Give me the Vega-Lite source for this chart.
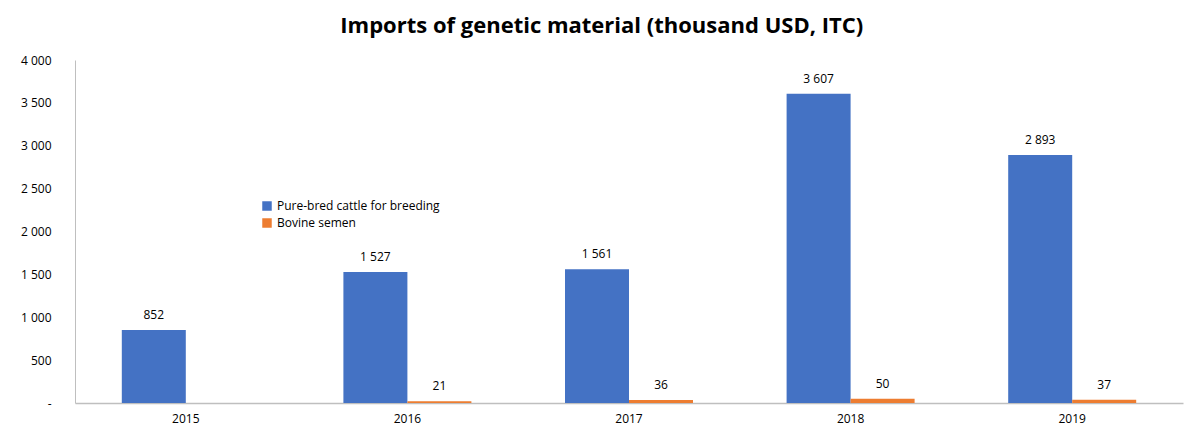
{
  "$schema": "https://vega.github.io/schema/vega-lite/v6.json",
  "width": 1197,
  "height": 439,
  "autosize": {"type": "fit", "contains": "padding"},
  "padding": {"left": 20, "right": 14, "top": 15, "bottom": 15},
  "background": "white",
  "config": {
    "view": {"stroke": null},
    "font": "Open Sans",
    "locale": {"number": {"decimal": ".", "thousands": " ", "grouping": [3], "currency": ["", ""]}}
  },
  "title": {
    "text": "Imports of genetic material (thousand USD, ITC)",
    "fontSize": 22,
    "fontWeight": "bold",
    "font": "Open Sans",
    "color": "#000000",
    "anchor": "middle",
    "frame": "bounds",
    "offset": 16
  },
  "data": {
    "values": [
      {"year": "2015", "series": "Pure-bred cattle for breeding", "value": 852},
      {"year": "2016", "series": "Pure-bred cattle for breeding", "value": 1527},
      {"year": "2016", "series": "Bovine semen", "value": 21},
      {"year": "2017", "series": "Pure-bred cattle for breeding", "value": 1561},
      {"year": "2017", "series": "Bovine semen", "value": 36},
      {"year": "2018", "series": "Pure-bred cattle for breeding", "value": 3607},
      {"year": "2018", "series": "Bovine semen", "value": 50},
      {"year": "2019", "series": "Pure-bred cattle for breeding", "value": 2893},
      {"year": "2019", "series": "Bovine semen", "value": 37}
    ]
  },
  "encoding": {
    "x": {
      "field": "year",
      "type": "nominal",
      "scale": {"paddingInner": 0.4224, "paddingOuter": 0.2112},
      "axis": {
        "title": null,
        "labelAngle": 0,
        "labelFontSize": 12,
        "labelColor": "#000000",
        "labelPadding": 10,
        "ticks": false,
        "domainColor": "#bfbfbf",
        "domainWidth": 1.5
      }
    },
    "xOffset": {
      "field": "series",
      "type": "nominal",
      "scale": {"domain": ["Pure-bred cattle for breeding", "Bovine semen"], "paddingInner": 0, "paddingOuter": 0}
    },
    "y": {
      "field": "value",
      "type": "quantitative",
      "scale": {"domain": [0, 4000], "nice": false},
      "axis": {
        "title": null,
        "grid": false,
        "ticks": false,
        "values": [0, 500, 1000, 1500, 2000, 2500, 3000, 3500, 4000],
        "labelOverlap": false,
        "labelExpr": "datum.value == 0 ? '-' : format(datum.value, ',d')",
        "labelFontSize": 12,
        "labelColor": "#000000",
        "labelPadding": 24,
        "domainColor": "#bfbfbf",
        "domainWidth": 1
      }
    }
  },
  "layer": [
    {
      "mark": {"type": "bar"},
      "encoding": {
        "color": {
          "field": "series",
          "type": "nominal",
          "scale": {"domain": ["Pure-bred cattle for breeding", "Bovine semen"], "range": ["#4472C4", "#ED7D31"]},
          "legend": {
            "title": null,
            "orient": "none",
            "legendX": 186,
            "legendY": 140,
            "symbolType": "square",
            "symbolSize": 90,
            "symbolStrokeWidth": 0,
            "labelFontSize": 12,
            "labelColor": "#000000",
            "labelLimit": 400,
            "rowPadding": 5,
            "labelOffset": 4
          }
        }
      }
    },
    {
      "mark": {"type": "text", "baseline": "bottom", "dy": -8, "fontSize": 12, "color": "#000000"},
      "encoding": {
        "text": {"field": "value", "type": "quantitative", "format": ",d"}
      }
    }
  ]
}
